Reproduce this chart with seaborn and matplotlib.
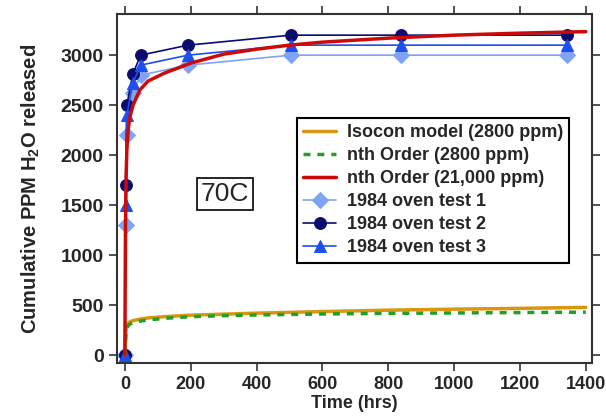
import numpy as np
import pandas as pd
import matplotlib
matplotlib.use("Agg")
import matplotlib.pyplot as plt
import seaborn as sns

# model curves (hrs, ppm)
t_model = [0, 1, 2, 4, 6, 10, 15, 25, 45, 70, 120, 200, 300, 400, 500, 600, 800, 1000, 1200, 1400]
isocon_2800 = [0, 80, 150, 260, 300, 320, 333, 345, 360, 372, 385, 400, 410, 420, 428, 436, 450, 460, 468, 478]
nth_2800 = [0, 80, 150, 240, 275, 295, 310, 325, 340, 352, 368, 385, 395, 402, 407, 412, 418, 422, 426, 430]
nth_21000 = [0, 700, 1300, 1800, 2050, 2250, 2380, 2500, 2650, 2740, 2820, 2920, 3010, 3060, 3100, 3130, 3170, 3200, 3220, 3235]

# 1984 oven tests
t_test = [0, 2, 6, 24, 48, 192, 504, 840, 1344]
test1 = [0, 1300, 2200, 2620, 2800, 2900, 3000, 3000, 3000]
test2 = [0, 1700, 2500, 2810, 3000, 3100, 3200, 3200, 3200]
test3 = [0, 1500, 2400, 2720, 2900, 3000, 3100, 3100, 3100]

sns.set_theme(style="ticks")
plt.rcParams['font.family'] = ['Liberation Sans', 'DejaVu Sans']
plt.rcParams['mathtext.fontset'] = 'custom'
plt.rcParams['mathtext.rm'] = 'Liberation Sans:bold'
plt.rcParams['mathtext.bf'] = 'Liberation Sans:bold'

fig = plt.figure(figsize=(6.06, 4.16), dpi=100)
ax = fig.add_axes([0.193, 0.127, 0.784, 0.839])

sns.lineplot(x=t_test, y=test1, ax=ax, color="#7fa4f5", marker="D", markersize=8,
             markeredgecolor="#7fa4f5", lw=1.2, label="1984 oven test 1")
sns.lineplot(x=t_test, y=test2, ax=ax, color="#0b0b70", marker="o", markersize=8.5,
             markeredgecolor="#0b0b70", lw=1.2, label="1984 oven test 2")
sns.lineplot(x=t_test, y=test3, ax=ax, color="#1d4ff0", marker="^", markersize=8.5,
             markeredgecolor="#1d4ff0", lw=1.2, label="1984 oven test 3")
sns.lineplot(x=t_model, y=isocon_2800, ax=ax, color="#d9960f", lw=2.5,
             label="Isocon model (2800 ppm)")
sns.lineplot(x=t_model, y=nth_2800, ax=ax, color="#22a022", lw=2.5,
             linestyle=(0, (2, 2)), label="nth Order (2800 ppm)")
sns.lineplot(x=t_model, y=nth_21000, ax=ax, color="#cc0a0a", lw=2.5,
             label="nth Order (21,000 ppm)")

ax.set_xlim(-24, 1419)
ax.set_ylim(-80, 3410)
ax.set_xticks(np.arange(0, 1401, 200))
ax.set_yticks(np.arange(0, 3001, 500))
ax.tick_params(axis='both', direction='out', length=6, width=1.2,
               top=True, right=True, color='#333333')
ax.tick_params(axis='x', labelsize=13)
ax.tick_params(axis='y', labelsize=14)
for lab in ax.get_xticklabels() + ax.get_yticklabels():
    lab.set_fontweight('bold')
for s in ax.spines.values():
    s.set_visible(True)
    s.set_linewidth(1.5)
    s.set_color('#333333')

ax.set_xlabel("Time (hrs)", fontsize=13, fontweight='bold', labelpad=1)
ax.set_ylabel(r"Cumulative PPM H$_\mathbf{2}$O released", fontsize=14.5,
              fontweight='bold', labelpad=13)

ax.text(304, 1610, "70C", fontsize=19, ha='center', va='center',
        bbox=dict(boxstyle='square,pad=0.15', fc='white', ec='black', lw=1.2))

h, l = ax.get_legend_handles_labels()
order = [3, 4, 5, 0, 1, 2]
leg = ax.legend([h[i] for i in order], [l[i] for i in order],
                loc='upper left', bbox_to_anchor=(0.379, 0.702),
                prop={'weight': 'bold', 'size': 13}, frameon=True, fancybox=False,
                handlelength=1.8, handletextpad=0.6, labelspacing=0.33,
                borderpad=0.35, borderaxespad=0)
leg.get_frame().set_edgecolor('black')
leg.get_frame().set_linewidth(1.5)
leg.get_frame().set_alpha(1)

fig.savefig("out.png", dpi=100)
